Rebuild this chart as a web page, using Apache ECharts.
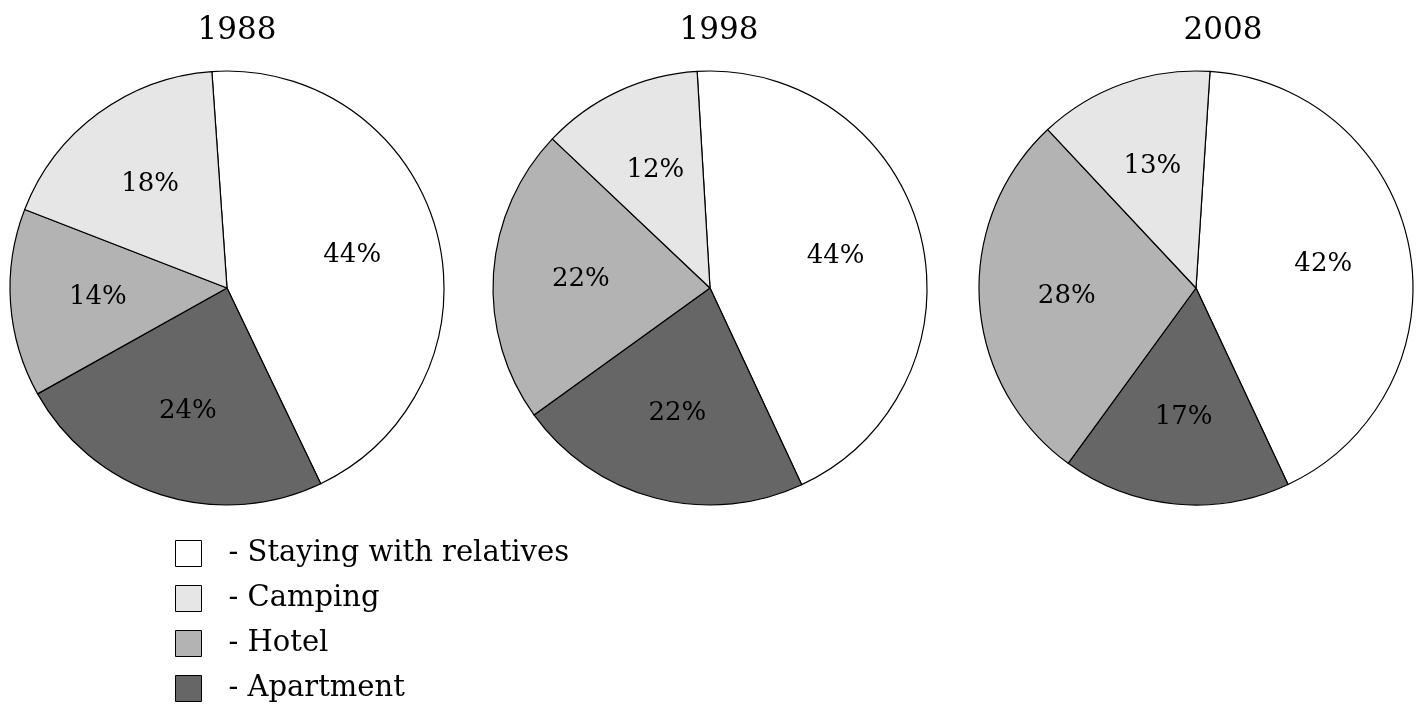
<!DOCTYPE html>
<html><head><meta charset="utf-8">
<script src="https://cdn.jsdelivr.net/npm/echarts@6/dist/echarts.min.js"></script>
<style>html,body{margin:0;padding:0;background:#fff}#c{width:1419px;height:705px}</style>
</head><body><div id="c"></div>
<script>
const categories = ['Staying with relatives', 'Apartment', 'Hotel', 'Camping'];
const legendOrder = ['Staying with relatives', 'Camping', 'Hotel', 'Apartment'];
const years = ['1988', '1998', '2008'];
const values1988 = [44, 24, 14, 18];
const values1998 = [44, 22, 22, 12];
const values2008 = [42, 17, 28, 13];
const startAngles = [94, 93.4, 86.3];
const colors = {'Staying with relatives': '#ffffff', 'Camping': '#e6e6e6', 'Hotel': '#b3b3b3', 'Apartment': '#666666'};
const centers = [[227, 288], [710, 288], [1196, 288]];
const titleX = [232, 714, 1218];
const R = 217;
const FONT = 'DejaVu Serif';
const allValues = [values1988, values1998, values2008];

const series = [];
allValues.forEach((vals, i) => {
  const data = categories.map((c, k) => ({name: c, value: vals[k], itemStyle: {color: colors[c]}}));
  series.push({
    type: 'pie', center: centers[i], radius: [0, R], startAngle: startAngles[i], clockwise: true,
    data: data, label: {show: false}, labelLine: {show: false},
    itemStyle: {borderColor: '#000', borderWidth: 1.2},
    emphasis: {disabled: true}, animation: false
  });
  series.push({
    type: 'pie', center: centers[i], radius: [36, R], startAngle: startAngles[i], clockwise: true,
    data: data.map(d => ({name: d.name, value: d.value, itemStyle: {color: 'rgba(0,0,0,0)'}})),
    itemStyle: {borderWidth: 0}, silent: true,
    label: {show: true, position: 'inside', formatter: '{c}%', color: '#000', fontFamily: FONT, fontSize: 26},
    labelLine: {show: false}, emphasis: {disabled: true}, animation: false
  });
});

const chart = echarts.init(document.getElementById('c'));
chart.setOption({
  backgroundColor: '#fff',
  title: years.map((y, i) => ({text: y, left: titleX[i], top: 10, textAlign: 'center',
    textStyle: {fontFamily: FONT, fontSize: 31, fontWeight: 'normal', color: '#000'}})),
  legend: {
    data: legendOrder.map(n => ({name: n, itemStyle: {color: colors[n], borderColor: '#000', borderWidth: 1}})),
    orient: 'vertical', left: 170, top: 534, height: 300, itemWidth: 26, itemHeight: 26, itemGap: 16,
    icon: 'rect', selectedMode: false, formatter: '- {name}',
    textStyle: {fontFamily: FONT, fontSize: 29, lineHeight: 26, color: '#000', padding: [0, 0, 0, 22]}
  },
  series: series
});
</script></body></html>
